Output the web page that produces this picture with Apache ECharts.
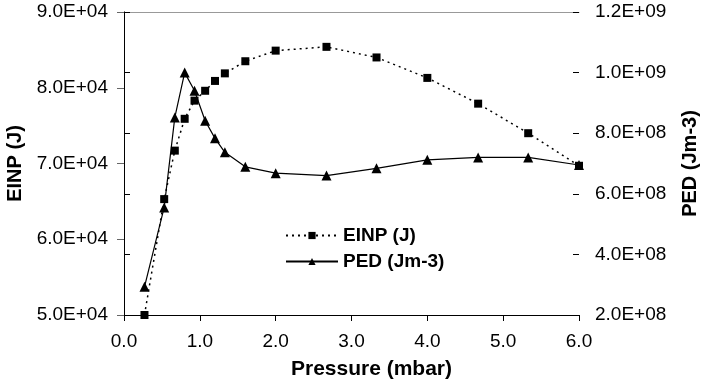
<!DOCTYPE html>
<html><head><meta charset="utf-8">
<script src="https://cdn.jsdelivr.net/npm/echarts@6/dist/echarts.min.js"></script>
<style>html,body{margin:0;padding:0;background:#fff}#c{width:701px;height:389px}</style>
</head><body><div id="c"></div>
<script>
var pressure = [0.27, 0.53, 0.67, 0.8, 0.93, 1.07, 1.2, 1.33, 1.6, 2.0, 2.67, 3.33, 4.0, 4.67, 5.33, 6.0];
var einp = [5.0e4, 6.53e4, 7.17e4, 7.59e4, 7.83e4, 7.96e4, 8.09e4, 8.19e4, 8.35e4, 8.49e4, 8.54e4, 8.40e4, 8.13e4, 7.79e4, 7.40e4, 6.97e4];
var ped = [2.93e8, 5.55e8, 8.52e8, 1.0e9, 9.40e8, 8.41e8, 7.83e8, 7.37e8, 6.89e8, 6.68e8, 6.60e8, 6.84e8, 7.12e8, 7.20e8, 7.20e8, 6.95e8];
var xTicks = [0, 1, 2, 3, 4, 5, 6];
var einpName = 'EINP (J)', pedName = 'PED (Jm-3)', xName = 'Pressure (mbar)';

function expFmt(v){
  if (v === 0) return '0.0E+00';
  var e = Math.floor(Math.log10(Math.abs(v)) + 1e-9);
  var m = v / Math.pow(10, e);
  return m.toFixed(1) + 'E+' + (e < 10 ? '0' + e : e);
}
var F = 'Liberation Sans, Arial, sans-serif';
var TICK = 19, TITLE = 20;
var chart = echarts.init(document.getElementById('c'));
chart.setOption({
  animation: false,
  grid: {left: 124, right: 122, top: 12, bottom: 74, containLabel: false, outerBoundsMode: 'none'},
  legend: {
    orient: 'vertical', left: 280, top: 221, itemGap: 7, itemWidth: 52, itemHeight: 9,
    textStyle: {fontFamily: F, fontSize: 19, fontWeight: 'bold', color: '#000'},
    data: [einpName, pedName]
  },
  xAxis: [{
    type: 'value', min: xTicks[0], max: xTicks[xTicks.length - 1], interval: 1,
    name: xName, nameLocation: 'middle', nameGap: 44,
    nameTextStyle: {fontFamily: F, fontSize: 21, fontWeight: 'bold', color: '#000', padding: [0, 0, 0, 40]},
    axisLine: {onZero: false, lineStyle: {color: '#000', width: 1}},
    axisTick: {inside: false, length: 6, lineStyle: {color: '#000'}},
    axisLabel: {fontFamily: F, fontSize: TICK, color: '#000', margin: 17, formatter: function(v){return v.toFixed(1);}},
    splitLine: {show: false}
  }, {
    type: 'value', min: 0, max: 6, position: 'top',
    axisLine: {show: true, lineStyle: {color: '#999'}},
    axisTick: {show: false}, axisLabel: {show: false}, splitLine: {show: false}
  }],
  yAxis: [{
    type: 'value', min: 5e4, max: 9e4, interval: 1e4, position: 'left',
    name: einpName, nameLocation: 'middle', nameGap: 97, nameRotate: 90,
    nameTextStyle: {fontFamily: F, fontSize: TITLE, fontWeight: 'bold', color: '#000'},
    axisLine: {show: true, lineStyle: {color: '#666'}},
    axisTick: {show: true, length: 7, lineStyle: {color: '#666'}},
    axisLabel: {fontFamily: F, fontSize: TICK, color: '#000', margin: 16, formatter: expFmt},
    splitLine: {show: false}
  }, {
    type: 'value', min: 2e8, max: 1.2e9, interval: 2e8, position: 'right',
    name: pedName, nameLocation: 'middle', nameGap: 101, nameRotate: 90,
    nameTextStyle: {fontFamily: F, fontSize: TITLE, fontWeight: 'bold', color: '#000'},
    axisLine: {show: true, lineStyle: {color: '#000'}},
    axisTick: {show: true, length: 6, lineStyle: {color: '#000'}},
    axisLabel: {fontFamily: F, fontSize: TICK, color: '#000', margin: 16, formatter: expFmt},
    splitLine: {show: false}
  }, {
    type: 'value', min: 2e8, max: 1.2e9, interval: 2e8, position: 'right',
    axisLine: {show: false},
    axisTick: {show: true, inside: true, length: 6, lineStyle: {color: '#000'}},
    axisLabel: {show: false}, splitLine: {show: false}
  }],
  series: [{
    name: einpName, type: 'line', xAxisIndex: 0, yAxisIndex: 0,
    data: pressure.map(function(p, i){return [p, einp[i]];}),
    symbol: 'rect', symbolSize: 8,
    itemStyle: {color: '#000'},
    lineStyle: {color: '#000', width: 1.5, type: [2, 4]}
  }, {
    name: pedName, type: 'line', xAxisIndex: 0, yAxisIndex: 1,
    data: pressure.map(function(p, i){return [p, ped[i]];}),
    symbol: 'triangle', symbolSize: 10,
    itemStyle: {color: '#000'},
    lineStyle: {color: '#000', width: 1.2, type: 'solid'}
  }]
});
</script></body></html>
